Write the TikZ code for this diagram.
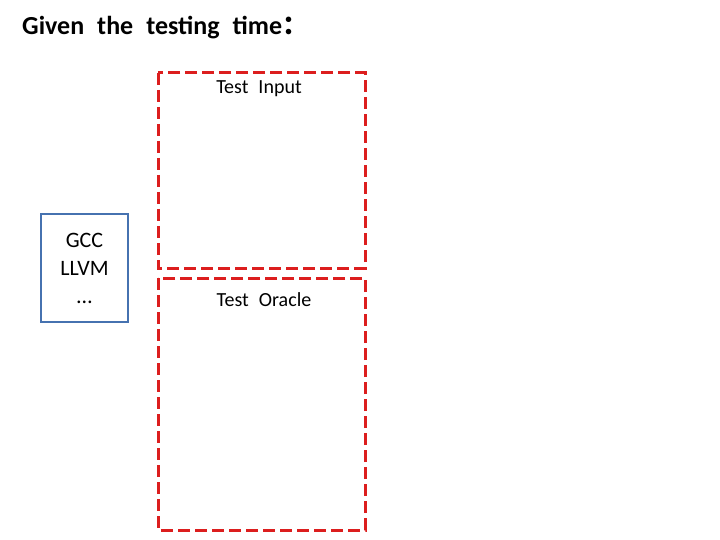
\documentclass[tikz,border=0pt]{standalone}
\usepackage{fontspec}
\setmainfont{Carlito}
\newfontfamily\cjk{Noto Sans CJK SC}
\begin{document}
\begin{tikzpicture}[x=1pt,y=-1pt,
  redbox/.style={draw={rgb,255:red,220;green,30;blue,30},line width=3pt,dash pattern=on 12pt off 5pt},
  bluebox/.style={draw={rgb,255:red,70;green,114;blue,176},line width=2.6pt,align=center,font=\fontsize{22}{28}\selectfont}]
\useasboundingbox (0,0) rectangle (720,540);
\node[anchor=west,font=\bfseries\fontsize{26}{28}\selectfont,inner sep=0pt] (title) at (22,28) {Given\enspace the\enspace testing\enspace time{\cjk\bfseries ：}};
\draw[redbox] (158,73) rectangle (365,268);
\draw[redbox] (158,278) rectangle (365,530);
\node[font=\fontsize{20}{20}\selectfont] (ti) at (259,89) {Test\enspace Input};
\node[font=\fontsize{20}{20}\selectfont] (to) at (264,300) {Test\enspace Oracle};
\node[bluebox,minimum width=87pt,minimum height=108pt,inner sep=0pt] (c) at (84.5,268) {GCC\\LLVM\\…};
\end{tikzpicture}
\end{document}
